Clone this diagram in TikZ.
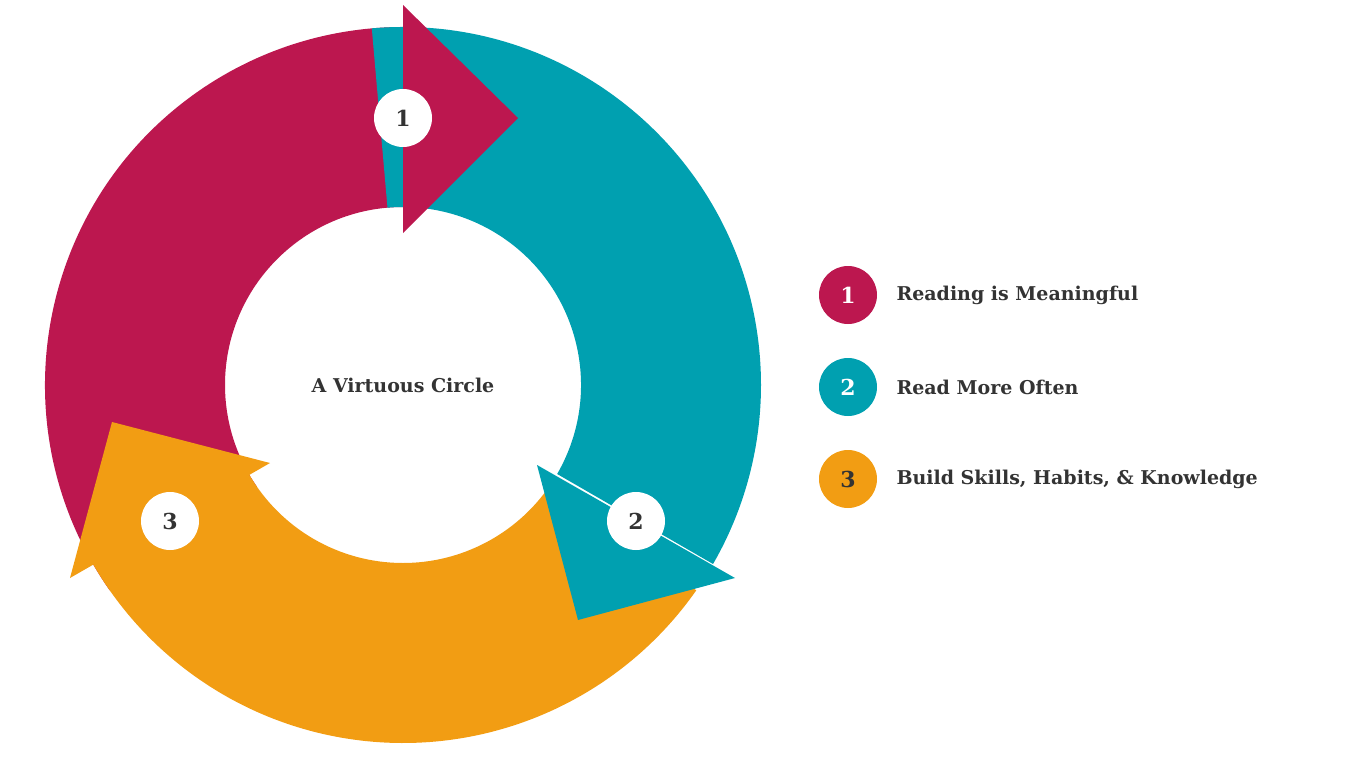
\documentclass[tikz,border=0pt]{standalone}
\usepackage{fontspec}
\setmainfont{DejaVu Serif}
\usetikzlibrary{calc}
\definecolor{cr}{HTML}{BC174F}
\definecolor{tl}{HTML}{00A0B0}
\definecolor{og}{HTML}{F29D13}
\definecolor{tx}{HTML}{333333}
\tikzset{num/.style={circle,fill=white,minimum size=58pt,inner sep=0pt,text=tx,font=\fontsize{22}{24}\selectfont\bfseries},
lnum/.style={circle,minimum size=58pt,inner sep=0pt,text=white,font=\fontsize{22}{24}\selectfont\bfseries},
ltxt/.style={anchor=west,text=tx,font=\fontsize{19}{22}\selectfont\bfseries}}
\begin{document}
\begin{tikzpicture}[x=1pt,y=1pt]
\useasboundingbox (0,0) rectangle (1360,-757);
\coordinate (c) at (403,-385);
\newcommand\sect[3]{\fill[#3] ($(c)+(#1:358)$) arc[start angle=#1,end angle=#2,radius=358] -- ($(c)+(#2:178)$) arc[start angle=#2,end angle=#1,radius=178] -- cycle;}
\sect{215}{90}{cr}
\sect{95}{-30}{tl}
\sect{-35}{-150}{og}
\fill[cr] (403,-5) -- (518,-118) -- (403,-233) -- cycle;
\fill[tl] (537,-465) -- (735,-578) -- (578,-620) -- cycle;
\fill[og] (270,-463) -- (70,-578) -- (112,-422) -- cycle;
\node[num] (n1) at (403,-118) {1};
\node[num] (n2) at (636,-521) {2};
\node[num] (n3) at (170,-521) {3};
\node[text=tx,font=\fontsize{19}{22}\selectfont\bfseries] (ctr) at (403,-385) {A Virtuous Circle};
\node[lnum,fill=cr] (l1) at (848,-295) {1};
\node[lnum,fill=tl] (l2) at (848,-387) {2};
\node[lnum,fill=og,text=tx] (l3) at (848,-479) {3};
\node[ltxt] (t1) at (893,-295) {Reading is Meaningful};
\node[ltxt] (t2) at (893,-387) {Read More Often};
\node[ltxt] (t3) at (893,-479) {Build Skills, Habits, \& Knowledge};
\end{tikzpicture}
\end{document}
